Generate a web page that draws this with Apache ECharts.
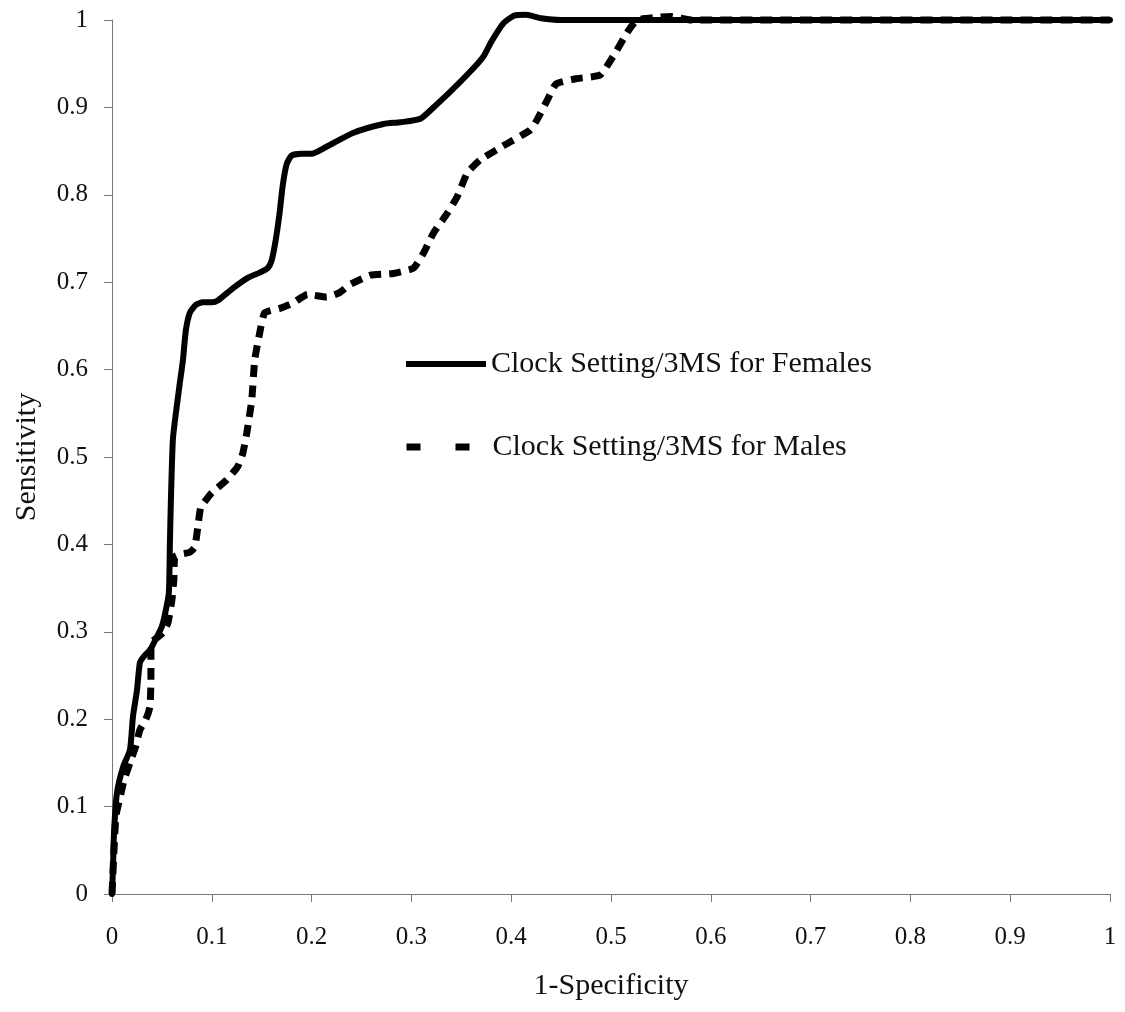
<!DOCTYPE html>
<html>
<head>
<meta charset="utf-8">
<script src="https://cdn.jsdelivr.net/npm/echarts@6/dist/echarts.min.js"></script>
<style>
html,body{margin:0;padding:0;background:#fff;}
#chart{width:1125px;height:1012px;}
</style>
</head>
<body>
<div id="chart"></div>
<script>
// ---- Data ----
const seriesNames = ['Clock Setting/3MS for Females', 'Clock Setting/3MS for Males'];

const femaleX = [0, 0.001, 0.002, 0.005, 0.011, 0.018, 0.021, 0.025, 0.028, 0.032, 0.038, 0.044, 0.050, 0.054, 0.057, 0.058, 0.059, 0.061, 0.064, 0.068, 0.071, 0.074, 0.078, 0.084, 0.091, 0.100, 0.106, 0.121, 0.136, 0.148, 0.156, 0.160, 0.164, 0.168, 0.171, 0.175, 0.180, 0.190, 0.200, 0.215, 0.242, 0.272, 0.289, 0.309, 0.324, 0.339, 0.359, 0.372, 0.380, 0.392, 0.403, 0.415, 0.430, 0.450, 0.600, 1.000];
const femaleY = [0, 0.03, 0.07, 0.116, 0.145, 0.165, 0.203, 0.233, 0.265, 0.272, 0.279, 0.292, 0.306, 0.325, 0.345, 0.40, 0.45, 0.52, 0.55, 0.585, 0.61, 0.645, 0.665, 0.674, 0.677, 0.677, 0.679, 0.693, 0.705, 0.711, 0.716, 0.725, 0.748, 0.78, 0.81, 0.835, 0.845, 0.847, 0.847, 0.855, 0.871, 0.881, 0.883, 0.887, 0.902, 0.918, 0.941, 0.958, 0.975, 0.996, 1.005, 1.006, 1.002, 1.0, 1.0, 1.0];

const maleX = [0, 0.002, 0.004, 0.008, 0.012, 0.018, 0.024, 0.028, 0.034, 0.038, 0.039, 0.039, 0.045, 0.051, 0.056, 0.060, 0.062, 0.063, 0.070, 0.078, 0.083, 0.086, 0.089, 0.095, 0.100, 0.115, 0.126, 0.131, 0.135, 0.140, 0.143, 0.148, 0.153, 0.168, 0.181, 0.196, 0.215, 0.228, 0.238, 0.259, 0.282, 0.302, 0.312, 0.322, 0.336, 0.346, 0.356, 0.369, 0.392, 0.419, 0.426, 0.436, 0.445, 0.466, 0.489, 0.502, 0.517, 0.526, 0.545, 0.560, 0.580, 1.000];
const maleY = [0, 0.05, 0.09, 0.11, 0.13, 0.15, 0.17, 0.188, 0.20, 0.214, 0.245, 0.287, 0.293, 0.299, 0.31, 0.336, 0.36, 0.386, 0.389, 0.391, 0.397, 0.420, 0.443, 0.452, 0.459, 0.474, 0.489, 0.504, 0.527, 0.565, 0.611, 0.642, 0.665, 0.670, 0.676, 0.686, 0.683, 0.688, 0.697, 0.708, 0.710, 0.716, 0.733, 0.756, 0.779, 0.798, 0.825, 0.840, 0.856, 0.874, 0.886, 0.908, 0.927, 0.933, 0.937, 0.958, 0.987, 1.0, 1.003, 1.004, 1.0, 1.0];

const xTickLabels = ['0', '0.1', '0.2', '0.3', '0.4', '0.5', '0.6', '0.7', '0.8', '0.9', '1'];
const yTickLabels = ['0', '0.1', '0.2', '0.3', '0.4', '0.5', '0.6', '0.7', '0.8', '0.9', '1'];
const xAxisTitle = '1-Specificity';
const yAxisTitle = 'Sensitivity';

// ---- Build ----
const femaleData = femaleX.map((x, i) => [x, femaleY[i]]);
const maleData = maleX.map((x, i) => [x, maleY[i]]);
const FONT = '"Liberation Serif", "Times New Roman", serif';
const tickFmt = labels => v => {
  const idx = Math.round(v * 10);
  return labels[idx] !== undefined ? labels[idx] : '';
};

const chart = echarts.init(document.getElementById('chart'), null, {renderer: 'canvas'});
chart.setOption({
  backgroundColor: '#ffffff',
  animation: false,
  grid: {left: 112, right: 15, top: 20, bottom: 118, containLabel: false},
  legend: [
    {
      data: [seriesNames[0]],
      left: 403, top: 349, padding: 0,
      itemWidth: 80, itemHeight: 14,
      textStyle: {fontFamily: FONT, fontSize: 30, color: '#111'},
      lineStyle: {width: 6, type: 'solid', cap: 'butt'},
      itemStyle: {color: 'rgba(0,0,0,0)', borderWidth: 0, borderColor: 'rgba(0,0,0,0)'},
      selectedMode: false
    },
    {
      data: [seriesNames[1]],
      left: 403, top: 432, padding: 0,
      itemWidth: 81, itemHeight: 14,
      textStyle: {fontFamily: FONT, fontSize: 30, color: '#111'},
      lineStyle: {width: 7, type: [14, 35], cap: 'butt'},
      itemStyle: {color: 'rgba(0,0,0,0)', borderWidth: 0, borderColor: 'rgba(0,0,0,0)'},
      selectedMode: false
    }
  ],
  xAxis: {
    type: 'value', min: 0, max: 1, interval: 0.1,
    name: xAxisTitle, nameLocation: 'middle', nameGap: 77,
    nameTextStyle: {fontFamily: FONT, fontSize: 30, color: '#111'},
    axisLine: {show: true, lineStyle: {color: '#777', width: 1}},
    axisTick: {show: true, inside: false, length: 8, lineStyle: {color: '#777'}},
    axisLabel: {fontFamily: FONT, fontSize: 25, color: '#111', margin: 31, formatter: tickFmt(xTickLabels)},
    splitLine: {show: false}
  },
  yAxis: {
    type: 'value', min: 0, max: 1, interval: 0.1,
    name: yAxisTitle, nameLocation: 'middle', nameGap: 70, nameRotate: 90,
    nameTextStyle: {fontFamily: FONT, fontSize: 30, color: '#111'},
    axisLine: {show: true, lineStyle: {color: '#777', width: 1}},
    axisTick: {show: true, inside: false, length: 8, lineStyle: {color: '#777'}},
    axisLabel: {fontFamily: FONT, fontSize: 25, color: '#111', margin: 24, formatter: tickFmt(yTickLabels)},
    splitLine: {show: false}
  },
  series: [
    {
      name: seriesNames[0], type: 'line', data: femaleData,
      symbol: 'none', smooth: 0.2, clip: false,
      lineStyle: {color: '#000', width: 6, type: 'solid', join: 'round', cap: 'round'},
      itemStyle: {color: '#000'},
      z: 2
    },
    {
      name: seriesNames[1], type: 'line', data: maleData,
      symbol: 'none', smooth: 0.15, clip: false,
      lineStyle: {color: '#000', width: 7, type: [12, 8], cap: 'butt'},
      itemStyle: {color: '#000'},
      z: 3
    }
  ]
});
</script>
</body>
</html>
